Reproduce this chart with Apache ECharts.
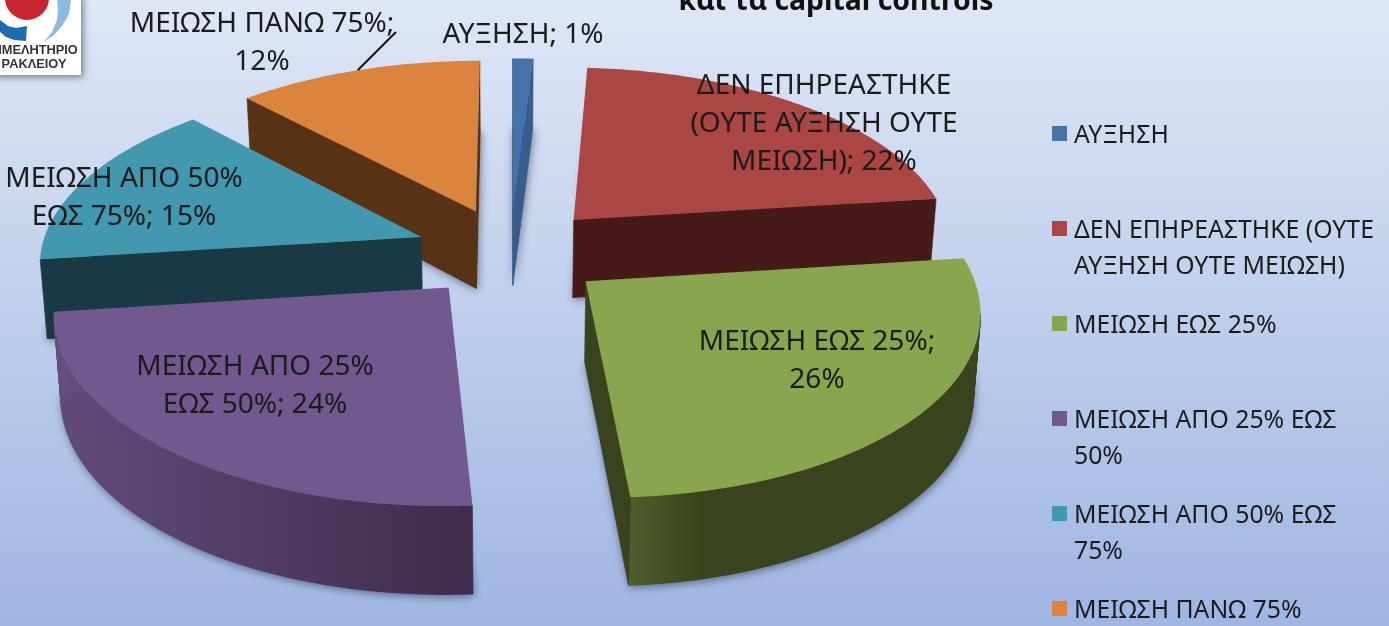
<!DOCTYPE html>
<html>
<head>
<meta charset="utf-8">
<style>
  html, body { margin: 0; padding: 0; background: #c0cfec; }
  #main { width: 1389px; height: 626px; }
</style>
<script src="https://cdn.jsdelivr.net/npm/echarts@6/dist/echarts.min.js"></script>
</head>
<body>
<div id="main"></div>
<script>
// data
const categories = ['ΑΥΞΗΣΗ', 'ΔΕΝ ΕΠΗΡΕΑΣΤΗΚΕ (ΟΥΤΕ ΑΥΞΗΣΗ ΟΥΤΕ ΜΕΙΩΣΗ)', 'ΜΕΙΩΣΗ ΕΩΣ 25%', 'ΜΕΙΩΣΗ ΑΠΟ 25% ΕΩΣ 50%', 'ΜΕΙΩΣΗ ΑΠΟ 50% ΕΩΣ 75%', 'ΜΕΙΩΣΗ ΠΑΝΩ 75%']
const values = [1, 22, 26, 24, 15, 12]
const labelLines = [
  ['ΑΥΞΗΣΗ; 1%'],
  ['ΔΕΝ ΕΠΗΡΕΑΣΤΗΚΕ', '(ΟΥΤΕ ΑΥΞΗΣΗ ΟΥΤΕ', 'ΜΕΙΩΣΗ); 22%'],
  ['ΜΕΙΩΣΗ ΕΩΣ 25%;', '26%'],
  ['ΜΕΙΩΣΗ ΑΠΟ 25%', 'ΕΩΣ 50%; 24%'],
  ['ΜΕΙΩΣΗ ΑΠΟ 50%', 'ΕΩΣ 75%; 15%'],
  ['ΜΕΙΩΣΗ ΠΑΝΩ 75%;', '12%']
]
const legendLines = [
  ['ΑΥΞΗΣΗ', ' '],
  ['ΔΕΝ ΕΠΗΡΕΑΣΤΗΚΕ (ΟΥΤΕ', 'ΑΥΞΗΣΗ ΟΥΤΕ ΜΕΙΩΣΗ)'],
  ['ΜΕΙΩΣΗ ΕΩΣ 25%', ' '],
  ['ΜΕΙΩΣΗ ΑΠΟ 25% ΕΩΣ', '50%'],
  ['ΜΕΙΩΣΗ ΑΠΟ 50% ΕΩΣ', '75%'],
  ['ΜΕΙΩΣΗ ΠΑΝΩ 75%', ' ']
]

// styles
const topColors = ['#4572a7', '#aa4643', '#89a54e', '#71588f', '#4198af', '#db843d']
const sideColors = ['#375d8c', '#461a18', '#39431d', '#553f6e', '#193a45', '#573214']
const rimLeft = ['#375d8c', '#461a18', '#505c2c', '#624c7c', '#193a45', '#573214']
const rimRight = ['#375d8c', '#461a18', '#39431d', '#3f2b4c', '#193a45', '#573214']
const rimStop = [1, 1, 0.2, 1, 1, 1]
const drawOrder = [1, 2, 4, 5, 3, 0] // back to front
const labelCenter = [[523, 35], [824, 124], [817, 361], [255, 386], [124, 198], [262, 43]]
const fontName = '"Noto Sans", sans-serif'

// projection of the tilted pie
const cx = 510, cy = 252, radiusX = 381, radiusY = 180, persp = 0.13
const explode = 0.25, depth = 79, baseShrink = 0.985, frontSkew = 5

function project(u, v, bottom) {
  let k = 1 / (1 - persp * v)
  let x = radiusX * u * k + frontSkew * Math.max(v, 0)
  let y = cy + radiusY * v * k
  if (bottom) {
    x = x * baseShrink
    y = y + depth * (1 + 0.1 * v)
  }
  return [cx + x, y]
}

let total = values.reduce((a, b) => a + b, 0)
let startPct = []
let sum = 0
values.forEach(v => { startPct.push(sum); sum += v })

function sliceOutline(idx) {
  let a0 = startPct[idx] / total * Math.PI * 2
  let a1 = (startPct[idx] + values[idx]) / total * Math.PI * 2
  let mid = (a0 + a1) / 2
  let ou = explode * Math.sin(mid), ov = -explode * Math.cos(mid)
  let plan = [[ou, ov]]
  let steps = Math.max(2, Math.ceil((a1 - a0) * 60))
  for (let i = 0; i <= steps; i++) {
    let a = a0 + (a1 - a0) * i / steps
    plan.push([ou + Math.sin(a), ov - Math.cos(a)])
  }
  return plan
}

function renderSlice(idx) {
  return function (params, api) {
    let plan = sliceOutline(idx)
    let top = plan.map(p => project(p[0], p[1], false))
    let base = plan.map(p => project(p[0], p[1], true))
    let order = drawOrder[idx] * 10
    let children = []
    // shadow under the slice
    children.push({
      type: 'polygon', z2: order, silent: true,
      shape: { points: base },
      style: { fill: sideColors[idx], shadowBlur: 9, shadowColor: 'rgba(20,30,50,0.55)', shadowOffsetX: 1, shadowOffsetY: 2 }
    })
    // side faces that look at the viewer
    let n = top.length
    let minX = Infinity, maxX = -Infinity
    for (let i = 1; i < n - 1; i++) {
      if (top[i + 1][0] < top[i][0]) {
        minX = Math.min(minX, top[i + 1][0])
        maxX = Math.max(maxX, top[i][0])
      }
    }
    let rimFill = new echarts.graphic.LinearGradient(minX, 0, maxX, 0, [
      { offset: 0, color: rimLeft[idx] },
      { offset: rimStop[idx], color: rimRight[idx] },
      { offset: 1, color: rimRight[idx] }
    ], true)
    for (let i = 0; i < n; i++) {
      let j = (i + 1) % n
      if (top[j][0] >= top[i][0]) continue
      let isRim = i > 0 && i < n - 1
      children.push({
        type: 'polygon', z2: order + 1, silent: true,
        shape: { points: [top[i], top[j], base[j], base[i]] },
        style: { fill: isRim ? rimFill : sideColors[idx], stroke: isRim ? rimFill : sideColors[idx], lineWidth: 0.6 }
      })
    }
    children.push({
      type: 'polygon', z2: order + 2,
      shape: { points: top },
      style: { fill: topColors[idx] }
    })
    // data label
    children.push({
      type: 'text', z2: 100, silent: true,
      style: {
        x: labelCenter[idx][0], y: labelCenter[idx][1],
        text: labelLines[idx].join('\n'),
        fill: '#1b1b1b', font: '28px ' + fontName,
        lineHeight: 38, align: 'center', verticalAlign: 'middle'
      }
    })
    // leader line of the orange slice, from its rim up to the label
    if (idx === 5) {
      let rim = top[Math.round(n * 0.5)]
      children.push({
        type: 'line', z2: 100, silent: true,
        shape: { x1: rim[0], y1: rim[1], x2: 396, y2: 32 },
        style: { stroke: '#111', lineWidth: 2 }
      })
    }
    return { type: 'group', children: children }
  }
}

let chart = echarts.init(document.getElementById('main'), null, { renderer: 'canvas' })

let seriesList = categories.map((name, i) => ({
  name: name,
  type: 'custom',
  coordinateSystem: 'none',
  color: topColors[i],
  itemStyle: { color: topColors[i] },
  data: [values[i]],
  animation: false,
  renderItem: renderSlice(i)
}))

chart.setOption({
  animation: false,
  backgroundColor: new echarts.graphic.LinearGradient(0, 0, 0, 1, [
    { offset: 0, color: '#dfe7f6' },
    { offset: 1, color: '#9fb6e2' }
  ]),
  title: {
    text: 'και τα capital controls',
    left: 831, top: -17,
    textAlign: 'center',
    textStyle: { fontFamily: fontName, fontSize: 28.4, fontWeight: 'bold', color: '#111' }
  },
  legend: {
    orient: 'vertical',
    left: 1052, top: 118, height: 760, padding: 0,
    itemGap: 23,
    itemWidth: 15, itemHeight: 72,
    icon: 'path://M0 0H0.01V0.01H0Z M0 8H15V23H0Z M0 72H0.01V72.01H0Z',
    selectedMode: false,
    data: categories,
    formatter: function (name) {
      return legendLines[categories.indexOf(name)].join('\n')
    },
    textStyle: { fontFamily: fontName, fontSize: 24.8, lineHeight: 36, color: '#1b1b1b', padding: [0, 0, 0, 2] }
  },
  // hospital logo in the corner
  graphic: [
    { type: 'rect', z: 0, shape: { x: -6, y: -6, width: 87, height: 81 }, style: { fill: '#fff', shadowBlur: 7, shadowColor: 'rgba(40,50,70,0.6)', shadowOffsetX: 2, shadowOffsetY: 2 } },
    { type: 'polygon', z: 0, shape: { points: [[0, 20], [8, 26], [16, 28], [27, 26], [26, 41], [14, 40], [6, 37], [0, 32]] }, style: { fill: '#1f6cb0' } },
    { type: 'polygon', z: 0, shape: { points: [[57, 0], [71, 0], [69, 14], [62, 26], [54, 35], [44, 42], [52, 32], [57, 20], [58, 10]] }, style: { fill: '#8db9de' } },
    { type: 'circle', z: 0, shape: { cx: 27, cy: -2, r: 22 }, style: { fill: '#c9252e' } },
    { type: 'text', z: 0, style: { x: 38, y: 50, text: 'ΙΜΕΛΗΤΗΡΙΟ', font: 'bold 12.8px "Liberation Sans"', fill: '#333', align: 'center', verticalAlign: 'middle' } },
    { type: 'text', z: 0, style: { x: 34, y: 64, text: 'ΡΑΚΛΕΙΟΥ', font: 'bold 12.8px "Liberation Sans"', fill: '#333', align: 'center', verticalAlign: 'middle' } }
  ],
  series: seriesList
})
</script>
</body>
</html>
